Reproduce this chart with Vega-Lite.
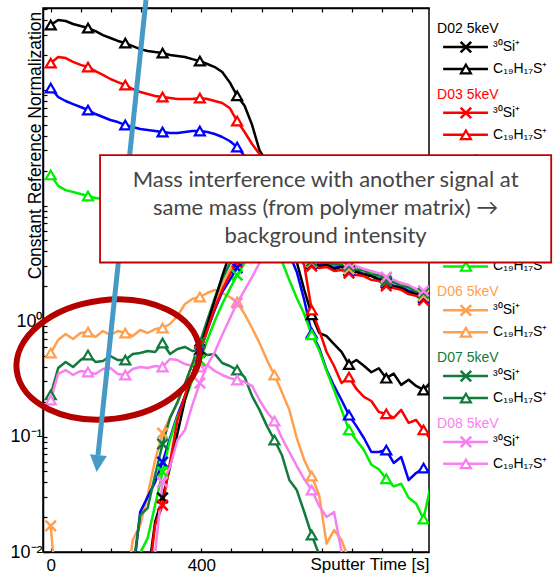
{
"$schema": "https://vega.github.io/schema/vega-lite/v6.json",
"width": 386, "height": 544,
"autosize": {"type": "none"},
"padding": {"left": 43, "top": 8, "right": 124, "bottom": 21},
"background": "white",
"config": {
 "view": {"stroke": "black", "strokeWidth": 1.5},
 "axis": {"grid": false, "labelFont": "Liberation Sans", "titleFont": "Liberation Sans", "labelColor": "black", "titleColor": "black", "domainColor": "black", "tickColor": "black", "titleFontWeight": "normal", "domainWidth": 1.5, "tickWidth": 1.2}
},
"datasets": {
 "series": [
  {"t":0,"bC":365,"rC":171,"uC":104,"gC":18.4,"oC":0.528,"dC":0.229,"pC":0.207,"oS":0.0168},
  {"t":19.8,"bC":404,"rC":193,"uC":87,"gC":14.8,"oC":0.685,"dC":0.392,"pC":0.348,"oS":0.003},
  {"t":39.6,"bC":396,"rC":189,"uC":80.3,"gC":13.6,"oC":0.772,"dC":0.442,"pC":0.376},
  {"t":59.4,"bC":373,"rC":175,"uC":75.6,"gC":13.1,"oC":0.699,"dC":0.4,"pC":0.341},
  {"t":79.2,"bC":358,"rC":165,"uC":71.3,"gC":12.6,"oC":0.787,"dC":0.459,"pC":0.369},
  {"t":99,"bC":344,"rC":158,"uC":67.1,"gC":12.1,"oC":0.803,"dC":0.508,"pC":0.362},
  {"t":118.8,"bC":324,"rC":146,"uC":62,"gC":11.6,"oC":0.727,"dC":0.442,"pC":0.348},
  {"t":138.6,"bC":299,"rC":135,"uC":58.4,"gC":11.4,"oC":0.819,"dC":0.45,"pC":0.384},
  {"t":158.4,"bC":282,"rC":124.5,"uC":55,"gC":11.2,"oC":0.756,"dC":0.498,"pC":0.392},
  {"t":178.2,"bC":266,"rC":117,"uC":52.8,"gC":11,"oC":0.819,"dC":0.459,"pC":0.348},
  {"t":198,"bC":255,"rC":110.5,"uC":49.8,"gC":10.9,"oC":0.787,"dC":0.459,"pC":0.341,"oS":0.004},
  {"t":217.8,"bC":240,"rC":102,"uC":47.8,"gC":10.8,"oC":0.742,"dC":0.518,"pC":0.384,"uS":0.006,"gS":0.004,"dS":0.007,"oS":0.0127},
  {"t":237.6,"bC":226,"rC":96.1,"uC":45.9,"gC":10.8,"oC":0.836,"dC":0.528,"pC":0.4,"uS":0.0222,"gS":0.0098,"dS":0.0209,"oS":0.0171},
  {"t":257.4,"bC":218,"rC":92.3,"uC":45.1,"gC":10.7,"oC":0.787,"dC":0.55,"pC":0.392,"bS":0.006,"rS":0.005,"uS":0.03,"gS":0.0132,"dS":0.024,"oS":0.0311,"pS":0.004},
  {"t":277.2,"bC":213,"rC":88.8,"uC":44.2,"gC":10.7,"oC":0.852,"dC":0.539,"pC":0.408,"bS":0.0182,"rS":0.0171,"uS":0.0403,"gS":0.0255,"dS":0.0464,"oS":0.0626,"pS":0.0098},
  {"t":297,"bC":209,"rC":87,"uC":43.3,"gC":10.6,"oC":0.87,"dC":0.645,"pC":0.4,"bS":0.0294,"rS":0.0254,"uS":0.06,"gS":0.0493,"dS":0.0861,"oS":0.107,"pS":0.0403},
  {"t":316.8,"bC":201,"rC":85.2,"uC":42.4,"gC":10.6,"oC":0.942,"dC":0.518,"pC":0.469,"bS":0.0544,"rS":0.06,"uS":0.097,"gS":0.0933,"dS":0.145,"oS":0.145,"pS":0.0544},
  {"t":336.6,"bC":197,"rC":83.6,"uC":42.4,"gC":10.5,"oC":1.105,"dC":0.572,"pC":0.459,"bS":0.107,"rS":0.139,"uS":0.153,"gS":0.148,"dS":0.199,"oS":0.195,"pS":0.0933},
  {"t":356.4,"bC":193,"rC":83.6,"uC":43.3,"gC":10.5,"oC":1.404,"dC":0.596,"pC":0.424,"bS":0.207,"rS":0.225,"uS":0.225,"gS":0.207,"dS":0.285,"oS":0.285,"pS":0.114},
  {"t":376.2,"bC":185,"rC":83.6,"uC":44.2,"gC":10.4,"oC":1.551,"dC":0.55,"pC":0.408,"bS":0.341,"rS":0.348,"uS":0.341,"gS":0.308,"dS":0.424,"oS":0.424,"pS":0.188},
  {"t":396,"bC":178,"rC":85.2,"uC":44.2,"gC":10.4,"oC":1.614,"dC":0.561,"pC":0.4,"bS":0.561,"rS":0.539,"uS":0.539,"gS":0.459,"dS":0.645,"oS":0.645,"pS":0.29},
  {"t":415.8,"bC":168,"rC":83.6,"uC":43.3,"gC":10.2,"oC":1.748,"dC":0.508,"pC":0.416,"bS":0.923,"rS":0.836,"uS":0.836,"gS":0.685,"dS":1.02,"oS":0.98,"pS":0.416},
  {"t":435.6,"bC":158,"rC":80.3,"uC":41.6,"gC":10,"oC":1.855,"dC":0.518,"pC":0.369,"bS":1.52,"rS":1.3,"uS":1.25,"gS":1,"dS":1.58,"oS":1.46,"pS":0.539},
  {"t":455.4,"bC":143,"rC":77.2,"uC":39.2,"gC":9.6,"oC":1.748,"dC":0.433,"pC":0.341,"bS":2.45,"rS":1.855,"uS":1.78,"gS":1.404,"dS":2.31,"oS":2.05,"pS":0.756},
  {"t":475.2,"bC":117,"rC":69.9,"uC":36.2,"gC":9,"oC":1.614,"dC":0.408,"pC":0.321,"bS":3.8,"rS":2.5,"uS":2.26,"gS":1.89,"dS":3.12,"oS":2.76,"pS":1.04},
  {"t":495,"bC":89,"rC":53.9,"uC":32.1,"gC":8.2,"oC":1.461,"dC":0.376,"pC":0.308,"bS":5.5,"rS":3.24,"uS":2.88,"gS":2.5,"dS":4.8,"oS":3.51,"pS":1.43},
  {"t":514.8,"bC":73,"rC":43.3,"uC":26.8,"gC":7.3,"oC":1.15,"dC":0.327,"pC":0.296,"bS":7.5,"rS":4.8,"uS":3.8,"gS":3.18,"dS":6.8,"oS":5,"pS":1.855},
  {"t":534.6,"bC":50,"rC":34.1,"uC":20.3,"gC":6.3,"oC":0.87,"dC":0.224,"pC":0.274,"bS":9.5,"rS":7,"uS":5.5,"gS":4.5,"dS":8.8,"oS":7.2,"pS":2.4},
  {"t":554.4,"bC":30,"rC":27.9,"uC":14.8,"gC":5.3,"oC":0.645,"dC":0.17,"pC":0.207,"bS":11,"rS":9,"uS":8,"gS":6.5,"dS":10.3,"oS":9.2,"pS":3.18},
  {"t":574.2,"bC":23.8,"rC":19.5,"uC":10.3,"gC":4.4,"oC":0.459,"dC":0.123,"pC":0.163,"bS":11.8,"rS":10.5,"uS":9.8,"gS":8.5,"dS":11,"oS":10.5,"pS":4.5},
  {"t":594,"bC":12.1,"rC":12.3,"uC":7.2,"gC":3.6,"oC":0.341,"dC":0.0933,"pC":0.136,"bS":11.5,"rS":11,"uS":10.5,"gS":9.8,"dS":10.8,"oS":11,"pS":6},
  {"t":613.8,"bC":7.8,"rC":8.3,"uC":5,"gC":3.3,"oC":0.243,"dC":0.0692,"pC":0.097,"bS":10.2,"rS":10.3,"uS":10,"gS":10,"dS":9.8,"oS":10.4,"pS":7},
  {"t":633.6,"bC":5,"rC":5.6,"uC":3.8,"gC":2.26,"oC":0.17,"dC":0.042,"pC":0.0734,"bS":8.2,"rS":8.5,"uS":8.2,"gS":9,"dS":8,"oS":8.5,"pS":6.8},
  {"t":653.4,"bC":3.24,"rC":4.12,"uC":2.66,"gC":1.58,"oC":0.097,"dC":0.0344,"pC":0.0555,"bS":5.8,"rS":6,"uS":6,"gS":6.8,"dS":5.8,"oS":6.2,"pS":5.5},
  {"t":673.2,"bC":1.86,"rC":3.05,"uC":1.52,"gC":1.15,"oC":0.0626,"dC":0.0222,"pC":0.0428,"bS":3.9,"rS":4,"uS":4.1,"gS":4.5,"dS":4,"oS":4.2,"pS":4.2},
  {"t":693,"bC":1.13,"rC":1.245,"uC":0.787,"gC":0.76,"oC":0.0455,"dC":0.014,"pC":0.0344,"bS":3.12,"rS":2.99,"uS":3.18,"gS":3.44,"dS":3.31,"oS":3.24,"pS":3.51},
  {"t":712.8,"bC":0.79,"rC":0.836,"uC":0.584,"gC":0.56,"oC":0.0311,"dC":0.0095,"pC":0.025,"bS":2.99,"rS":2.88,"uS":3.05,"gS":3.24,"dS":3.24,"oS":3.12,"pS":3.44},
  {"t":732.6,"bC":0.74,"rC":0.539,"uC":0.376,"gC":0.37,"oC":0.0118,"dC":0.006,"pC":0.0201,"bS":3.05,"rS":2.94,"uS":3.12,"gS":3.31,"dS":3.18,"oS":3.18,"pS":3.31},
  {"t":752.4,"bC":0.63,"rC":0.408,"uC":0.274,"gC":0.253,"oC":0.0155,"pC":0.0222,"bS":2.82,"rS":2.71,"uS":2.88,"gS":3.05,"dS":3.12,"oS":2.94,"pS":3.24},
  {"t":772.2,"bC":0.54,"rC":0.29,"uC":0.207,"gC":0.17,"oC":0.0127,"pC":0.0101,"bS":2.94,"rS":2.76,"uS":2.99,"gS":3.18,"dS":3.05,"oS":3.05,"pS":3.24},
  {"t":792,"bC":0.42,"rC":0.327,"uC":0.153,"gC":0.114,"oC":0.0085,"pC":0.006,"bS":2.71,"rS":2.6,"uS":2.76,"gS":2.94,"dS":2.99,"oS":2.82,"pS":3.12},
  {"t":811.8,"bC":0.46,"rC":0.258,"uC":0.123,"gC":0.093,"oC":0.006,"bS":2.66,"rS":2.5,"uS":2.71,"gS":2.94,"dS":2.76,"oS":2.76,"pS":2.99},
  {"t":831.6,"bC":0.41,"rC":0.22,"uC":0.097,"gC":0.0764,"bS":2.5,"rS":2.45,"uS":2.55,"gS":2.71,"dS":2.76,"oS":2.6,"pS":2.82},
  {"t":851.4,"bC":0.36,"rC":0.203,"uC":0.0734,"gC":0.057,"bS":2.45,"rS":2.27,"uS":2.5,"gS":2.66,"dS":2.5,"oS":2.55,"pS":2.71},
  {"t":871.2,"bC":0.39,"rC":0.163,"uC":0.0734,"gC":0.052,"bS":2.27,"rS":2.22,"uS":2.31,"gS":2.45,"dS":2.5,"oS":2.36,"pS":2.6},
  {"t":891,"bC":0.32,"rC":0.157,"uC":0.0764,"gC":0.043,"bS":2.13,"rS":2.01,"uS":2.18,"gS":2.36,"dS":2.22,"oS":2.22,"pS":2.4},
  {"t":910.8,"bC":0.35,"rC":0.145,"uC":0.059,"gC":0.037,"bS":1.97,"rS":1.93,"uS":2.01,"gS":2.13,"dS":2.18,"oS":2.05,"pS":2.27},
  {"t":930.6,"bC":0.28,"rC":0.17,"uC":0.0665,"gC":0.039,"bS":1.93,"rS":1.86,"uS":1.97,"gS":2.13,"dS":2.01,"oS":2.01,"pS":2.13},
  {"t":950.4,"bC":0.31,"rC":0.131,"uC":0.042,"gC":0.0295,"bS":1.78,"rS":1.71,"uS":1.82,"gS":1.93,"dS":1.97,"oS":1.86,"pS":2.05},
  {"t":970.2,"bC":0.274,"rC":0.139,"uC":0.0483,"gC":0.0263,"bS":1.71,"rS":1.65,"uS":1.75,"gS":1.89,"dS":1.78,"oS":1.78,"pS":1.89},
  {"t":990,"bC":0.253,"rC":0.114,"uC":0.0533,"gC":0.0193,"bS":1.58,"rS":1.52,"uS":1.61,"gS":1.71,"dS":1.75,"oS":1.65,"pS":1.82},
  {"t":1009.8,"bC":0.296,"rC":0.093,"uC":0.049,"gC":0.039,"bS":1.49,"rS":1.43,"uS":1.52,"gS":1.65,"dS":1.58,"oS":1.55,"pS":1.68}
 ],
 "legend": [
  {"r":0,"key":"bS","kind":"head","txt":"D02 5keV"},{"r":1,"key":"bS","kind":"Si","txt":"³⁰Si⁺"},{"r":2,"key":"bC","kind":"C","txt":"C₁₉H₁₇S⁺"},
  {"r":3,"key":"rS","kind":"head","txt":"D03 5keV"},{"r":4,"key":"rS","kind":"Si","txt":"³⁰Si⁺"},{"r":5,"key":"rC","kind":"C","txt":"C₁₉H₁₇S⁺"},
  {"r":6,"key":"uS","kind":"head","txt":"D04 5keV"},{"r":7,"key":"uS","kind":"Si","txt":"³⁰Si⁺"},{"r":8,"key":"uC","kind":"C","txt":"C₁₉H₁₇S⁺"},
  {"r":9,"key":"gS","kind":"head","txt":"D05 5keV"},{"r":10,"key":"gS","kind":"Si","txt":"³⁰Si⁺"},{"r":11,"key":"gC","kind":"C","txt":"C₁₉H₁₇S⁺"},
  {"r":12,"key":"oS","kind":"head","txt":"D06 5keV"},{"r":13,"key":"oS","kind":"Si","txt":"³⁰Si⁺"},{"r":14,"key":"oC","kind":"C","txt":"C₁₉H₁₇S⁺"},
  {"r":15,"key":"dS","kind":"head","txt":"D07 5keV"},{"r":16,"key":"dS","kind":"Si","txt":"³⁰Si⁺"},{"r":17,"key":"dC","kind":"C","txt":"C₁₉H₁₇S⁺"},
  {"r":18,"key":"pS","kind":"head","txt":"D08 5keV"},{"r":19,"key":"pS","kind":"Si","txt":"³⁰Si⁺"},{"r":20,"key":"pC","kind":"C","txt":"C₁₉H₁₇S⁺"}
 ]
},
"layer": [
 {
  "data": {"name": "series"},
  "layer": [
   {
    "transform": [{"fold": ["bC","rC","uC","gC","oC","dC","pC","bS","rS","uS","gS","oS","dS","pS"], "as": ["key","v"]}, {"filter": "isValid(datum.v)"}],
    "mark": {"type": "line", "strokeWidth": 2.5, "clip": true, "strokeJoin": "round"},
    "encoding": {
     "x": {"field": "t", "type": "quantitative", "scale": {"domain": [-20.5, 1004.5], "nice": false, "zero": false},
      "axis": {"orient": "bottom", "values": [0,80,160,240,320,400,480,560,640,720,800,880,960], "tickCount": 30, "labelExpr": "datum.value == 0 || datum.value == 400 ? datum.label : ''", "labelOverlap": false, "labelFontSize": 17, "tickSize": -4, "labelPadding": 9, "labelFlush": false, "title": "Sputter Time [s]", "titleFontSize": 17, "titleX": 386, "titleY": 12, "titleAlign": "right", "titleAnchor": "end", "titleBaseline": "middle"}},
     "y": {"field": "v", "type": "quantitative", "scale": {"type": "log", "domain": [0.01, 513], "nice": false},
      "axis": {"orient": "left", "values": [0.01,0.02,0.03,0.04,0.05,0.06,0.07,0.08,0.09,0.1,0.2,0.3,0.4,0.5,0.6,0.7,0.8,0.9,1,2,3,4,5,6,7,8,9,10,20,30,40,50,60,70,80,90,100,200,300,400,500], "tickCount": 60, "labelExpr": "datum.value == 1 ? '10⁰' : datum.value == 0.1 ? '10⁻¹' : datum.value == 0.01 ? '10⁻²' : ''", "labelFontSize": 18, "tickSize": -4, "labelPadding": 5, "labelFlush": false, "labelOverlap": false, "title": "Constant Reference Normalization", "titleFontSize": 17.5, "titleAngle": 270, "titleX": -3, "titleY": 137, "titleAlign": "center", "titleBaseline": "alphabetic"}},
     "color": {"field": "key", "type": "nominal", "legend": null,
      "scale": {"domain": ["bC","rC","uC","gC","oC","dC","pC","bS","rS","uS","gS","oS","dS","pS"], "range": ["#000000","#ff0000","#0000ff","#00ee00","#ffa04f","#127a3c","#f87ff0","#000000","#ff0000","#0000ff","#00ee00","#ffa04f","#127a3c","#f87ff0"]}},
     "detail": {"field": "key"}
    }
   },
   {
    "transform": [{"fold": ["bC","rC","uC","gC","oC","dC","pC"], "as": ["key","v"]}, {"filter": "isValid(datum.v) && abs(datum.t/99 - round(datum.t/99)) < 0.001"}],
    "mark": {"type": "point", "shape": "triangle-up", "size": 100, "filled": false, "fill": "white", "strokeWidth": 2.2, "opacity": 1, "clip": true},
    "encoding": {
     "x": {"field": "t", "type": "quantitative"},
     "y": {"field": "v", "type": "quantitative"},
     "color": {"field": "key", "type": "nominal", "legend": null}
    }
   },
   {
    "transform": [{"fold": ["bS","rS","uS","gS","oS","dS","pS"], "as": ["key","v"]}, {"filter": "isValid(datum.v) && abs(datum.t/99 - round(datum.t/99)) < 0.001"}],
    "mark": {"type": "point", "shape": "M-1,-1L1,1M-1,1L1,-1", "size": 110, "filled": false, "strokeWidth": 2.5, "opacity": 1, "clip": true},
    "encoding": {
     "x": {"field": "t", "type": "quantitative"},
     "y": {"field": "v", "type": "quantitative"},
     "color": {"field": "key", "type": "nominal", "legend": null}
    }
   }
  ]
 },
 {
  "data": {"name": "legend"},
  "encoding": {
   "y": {"field": "r", "type": "quantitative", "scale": {"domain": [-0.78, 24.02], "reverse": true, "zero": false, "nice": false}, "axis": null}
  },
  "layer": [
   {
    "transform": [{"filter": "datum.kind == 'head'"}],
    "mark": {"type": "text", "align": "left", "baseline": "middle", "dy": 4, "fontSize": 14, "font": "Liberation Sans"},
    "encoding": {
     "x": {"datum": 1026, "type": "quantitative", "scale": {"domain": [-20.5, 1004.5], "nice": false, "zero": false}, "axis": null},
     "text": {"field": "txt"},
     "color": {"field": "key", "type": "nominal", "legend": null}
    }
   },
   {
    "transform": [{"filter": "datum.kind != 'head'"}],
    "mark": {"type": "rule", "strokeWidth": 2.5},
    "encoding": {
     "x": {"datum": 1042, "type": "quantitative", "axis": null},
     "x2": {"datum": 1161},
     "color": {"field": "key", "type": "nominal", "legend": null}
    }
   },
   {
    "transform": [{"filter": "datum.kind == 'Si'"}],
    "mark": {"type": "point", "shape": "M-1,-1L1,1M-1,1L1,-1", "size": 110, "filled": false, "strokeWidth": 2.5, "opacity": 1},
    "encoding": {
     "x": {"datum": 1102.5, "type": "quantitative", "axis": null},
     "color": {"field": "key", "type": "nominal", "legend": null}
    }
   },
   {
    "transform": [{"filter": "datum.kind == 'C'"}],
    "mark": {"type": "point", "shape": "triangle-up", "size": 100, "filled": false, "fill": "white", "strokeWidth": 2.2, "opacity": 1},
    "encoding": {
     "x": {"datum": 1102.5, "type": "quantitative", "axis": null},
     "color": {"field": "key", "type": "nominal", "legend": null}
    }
   },
   {
    "transform": [{"filter": "datum.kind != 'head'"}],
    "mark": {"type": "text", "align": "left", "baseline": "middle", "fontSize": 14, "font": "Liberation Sans", "color": "black"},
    "encoding": {
     "x": {"datum": 1174.6, "type": "quantitative", "axis": null},
     "text": {"field": "txt"}
    }
   }
  ]
 },
 {
  "data": {"values": [{"note": "Mass interference with another signal at\nsame mass (from polymer matrix) →\nbackground intensity"}]},
  "layer": [
   {
    "mark": {"type": "point", "shape": "M-1,0A1,0.647 0 1,1 1,0A1,0.647 0 1,1 -1,0Z", "size": 33856, "filled": false, "color": "#b50000", "strokeWidth": 6, "opacity": 1, "angle": -7},
    "encoding": {
     "x": {"datum": 152.2, "type": "quantitative", "scale": {"domain": [-20.5, 1004.5], "nice": false, "zero": false},
      "axis": {"orient": "top", "values": [0,80,160,240,320,400,480,560,640,720,800,880,960], "tickCount": 30, "labels": false, "tickSize": -4, "title": null, "domain": true}},
     "y": {"datum": 0.464, "type": "quantitative", "scale": {"type": "log", "domain": [0.01, 513], "nice": false}, "axis": null}
    }
   },
   {
    "mark": {"type": "rule", "strokeWidth": 5, "color": "#459bc6"},
    "encoding": {
     "x": {"datum": 253, "type": "quantitative"},
     "y": {"datum": 601, "type": "quantitative"},
     "x2": {"datum": 125.6},
     "y2": {"datum": 0.0692}
    }
   },
   {
    "mark": {"type": "point", "shape": "M-1,-1L1,-1L0,1Z", "size": 289, "filled": true, "color": "#459bc6", "opacity": 1, "angle": 6},
    "encoding": {
     "x": {"datum": 124.3, "type": "quantitative"},
     "y": {"datum": 0.0583, "type": "quantitative"}
    }
   },
   {
    "mark": {"type": "rect", "fill": "white", "stroke": "#c00000", "strokeWidth": 1.8},
    "encoding": {
     "x": {"datum": 131, "type": "quantitative"},
     "x2": {"datum": 1329},
     "y": {"datum": 27.36, "type": "quantitative"},
     "y2": {"datum": 3.21}
    }
   },
   {
    "mark": {"type": "text", "align": "center", "baseline": "middle", "lineBreak": "\n", "lineHeight": 28, "font": "Lato", "fontSize": 22, "color": "#454545"},
    "encoding": {
     "x": {"datum": 730, "type": "quantitative"},
     "y": {"datum": 16.6, "type": "quantitative"},
     "text": {"field": "note"}
    }
   }
  ]
 }
],
"resolve": {"scale": {"x": "independent", "y": "independent"}}
}
